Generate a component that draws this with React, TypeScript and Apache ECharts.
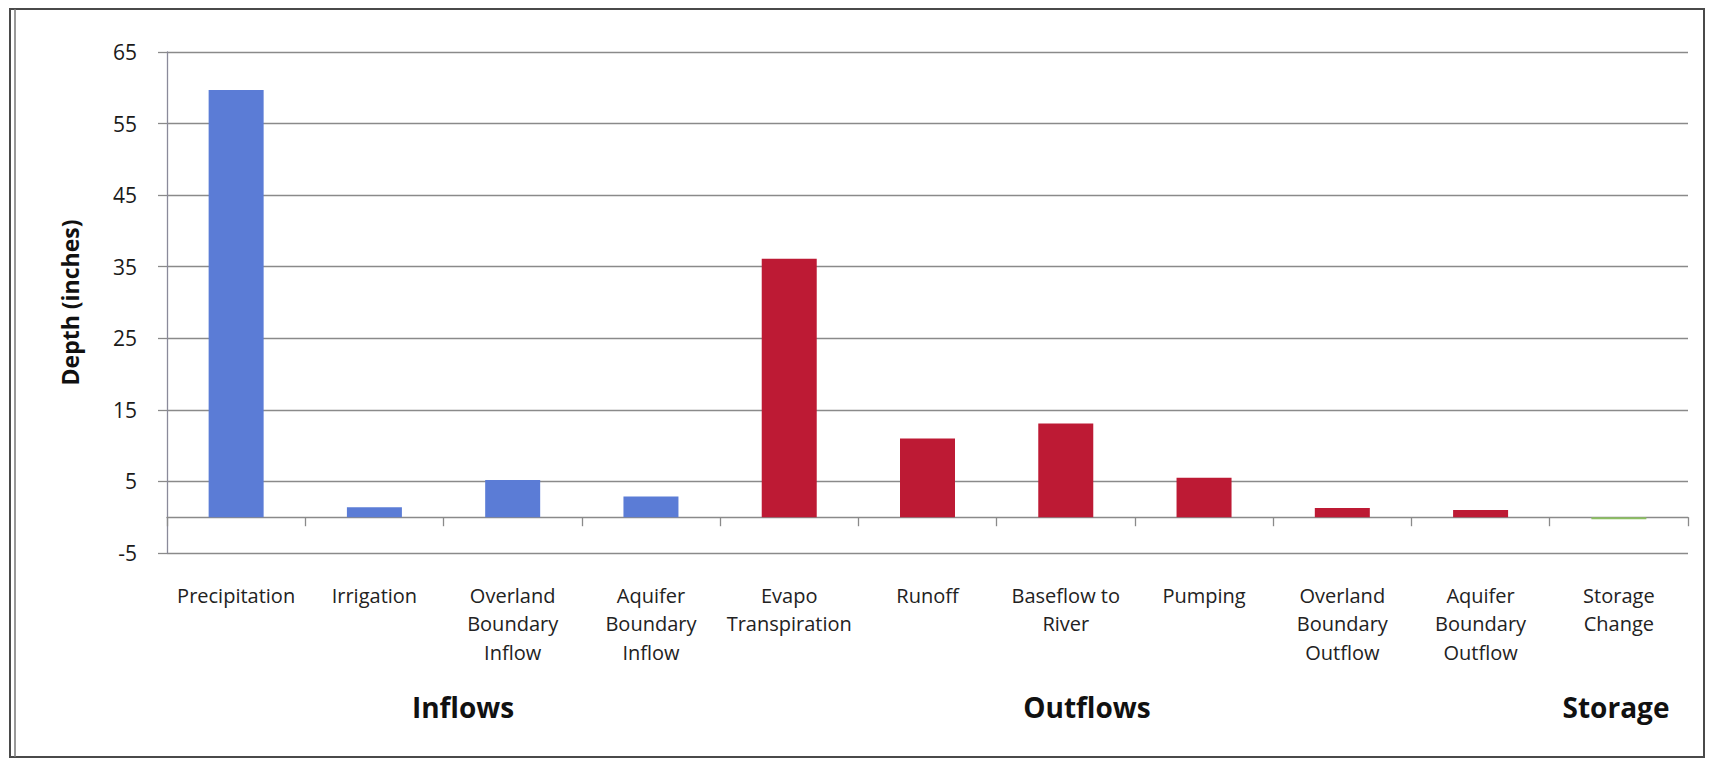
import React, { useEffect, useRef } from "react";
import * as echarts from "echarts";

const categories = [
  "Precipitation",
  "Irrigation",
  "Overland\nBoundary\nInflow",
  "Aquifer\nBoundary\nInflow",
  "Evapo\nTranspiration",
  "Runoff",
  "Baseflow to\nRiver",
  "Pumping",
  "Overland\nBoundary\nOutflow",
  "Aquifer\nBoundary\nOutflow",
  "Storage\nChange",
];
const values = [59.7, 1.4, 5.2, 2.9, 36.1, 11.0, 13.1, 5.5, 1.3, 1.0, -0.3];
const groups = ["in", "in", "in", "in", "out", "out", "out", "out", "out", "out", "store"];
const groupColors: Record<string, string> = {
  in: "#5b7cd6",
  out: "#bd1a34",
  store: "#8cbf62",
};
const groupLabels = ["Inflows", "Outflows", "Storage"];
const yTicks = { min: -5, max: 65, interval: 10 };

export default function App() {
  const ref = useRef<HTMLDivElement>(null);
  useEffect(() => {
    if (!ref.current) return;
    const chart = echarts.init(ref.current, null, { renderer: "svg" });
    const groupLabelPos = [
      { x: 463, y: 707 },
      { x: 1087, y: 707 },
      { x: 1616, y: 707 },
    ];
    chart.setOption({
      animation: false,
      backgroundColor: "#ffffff",
      grid: { left: 167, right: 22, top: 52, bottom: 207 },
      xAxis: {
        type: "category",
        data: categories,
        boundaryGap: true,
        axisLine: { onZero: true, lineStyle: { color: "#8a8a8a", width: 1.3 } },
        axisTick: { show: true, length: 9, alignWithLabel: false, lineStyle: { color: "#8a8a8a", width: 1.3 } },
        axisLabel: {
          interval: 0,
          margin: 28,
          fontFamily: "Open Sans",
          fontSize: 20,
          lineHeight: 28.5,
          color: "#222",
          align: "center",
          hideOverlap: false,
        },
        splitLine: { show: false },
      },
      yAxis: {
        type: "value",
        min: yTicks.min,
        max: yTicks.max,
        interval: yTicks.interval,
        name: "Depth (inches)",
        nameLocation: "middle",
        nameGap: 83,
        nameTextStyle: {
          fontFamily: "Open Sans",
          fontWeight: "bold",
          fontSize: 23,
          lineHeight: 28,
          color: "#111",
        },
        axisLine: { show: true, lineStyle: { color: "#8a8a9a", width: 1.3 } },
        axisTick: { show: true, length: 9, lineStyle: { color: "#8a8a8a", width: 1.3 } },
        axisLabel: {
          margin: 30,
          fontFamily: "Open Sans",
          fontSize: 21,
          color: "#1a1a1a",
        },
        splitLine: { show: true, lineStyle: { color: "#8a8a8a", width: 1.3 } },
      },
      series: [
        {
          type: "bar",
          barWidth: 55,
          data: values.map((v, i) => ({
            value: v,
            itemStyle: { color: groupColors[groups[i]] },
          })),
        },
      ],
      graphic: [
        {
          type: "rect",
          shape: { x: 10, y: 9, width: 1694, height: 748 },
          style: { fill: "none", stroke: "#4a4a4a", lineWidth: 2 },
          silent: true,
        },
        {
          type: "line",
          shape: { x1: 15, y1: 9, x2: 15, y2: 757 },
          style: { stroke: "#777", lineWidth: 1.5 },
          silent: true,
        },
        ...groupLabels.map((t, i) => ({
          type: "text",
          x: groupLabelPos[i].x,
          y: groupLabelPos[i].y,
          style: {
            text: t,
            fontFamily: "Open Sans",
            fontWeight: "bold",
            fontSize: 28,
            fill: "#111",
            align: "center",
            verticalAlign: "middle",
          },
        })),
      ],
    });
    return () => chart.dispose();
  }, []);
  return (
    <div
      ref={ref}
      style={{ position: "absolute", left: 0, top: 0, width: 1710, height: 760 }}
    />
  );
}
